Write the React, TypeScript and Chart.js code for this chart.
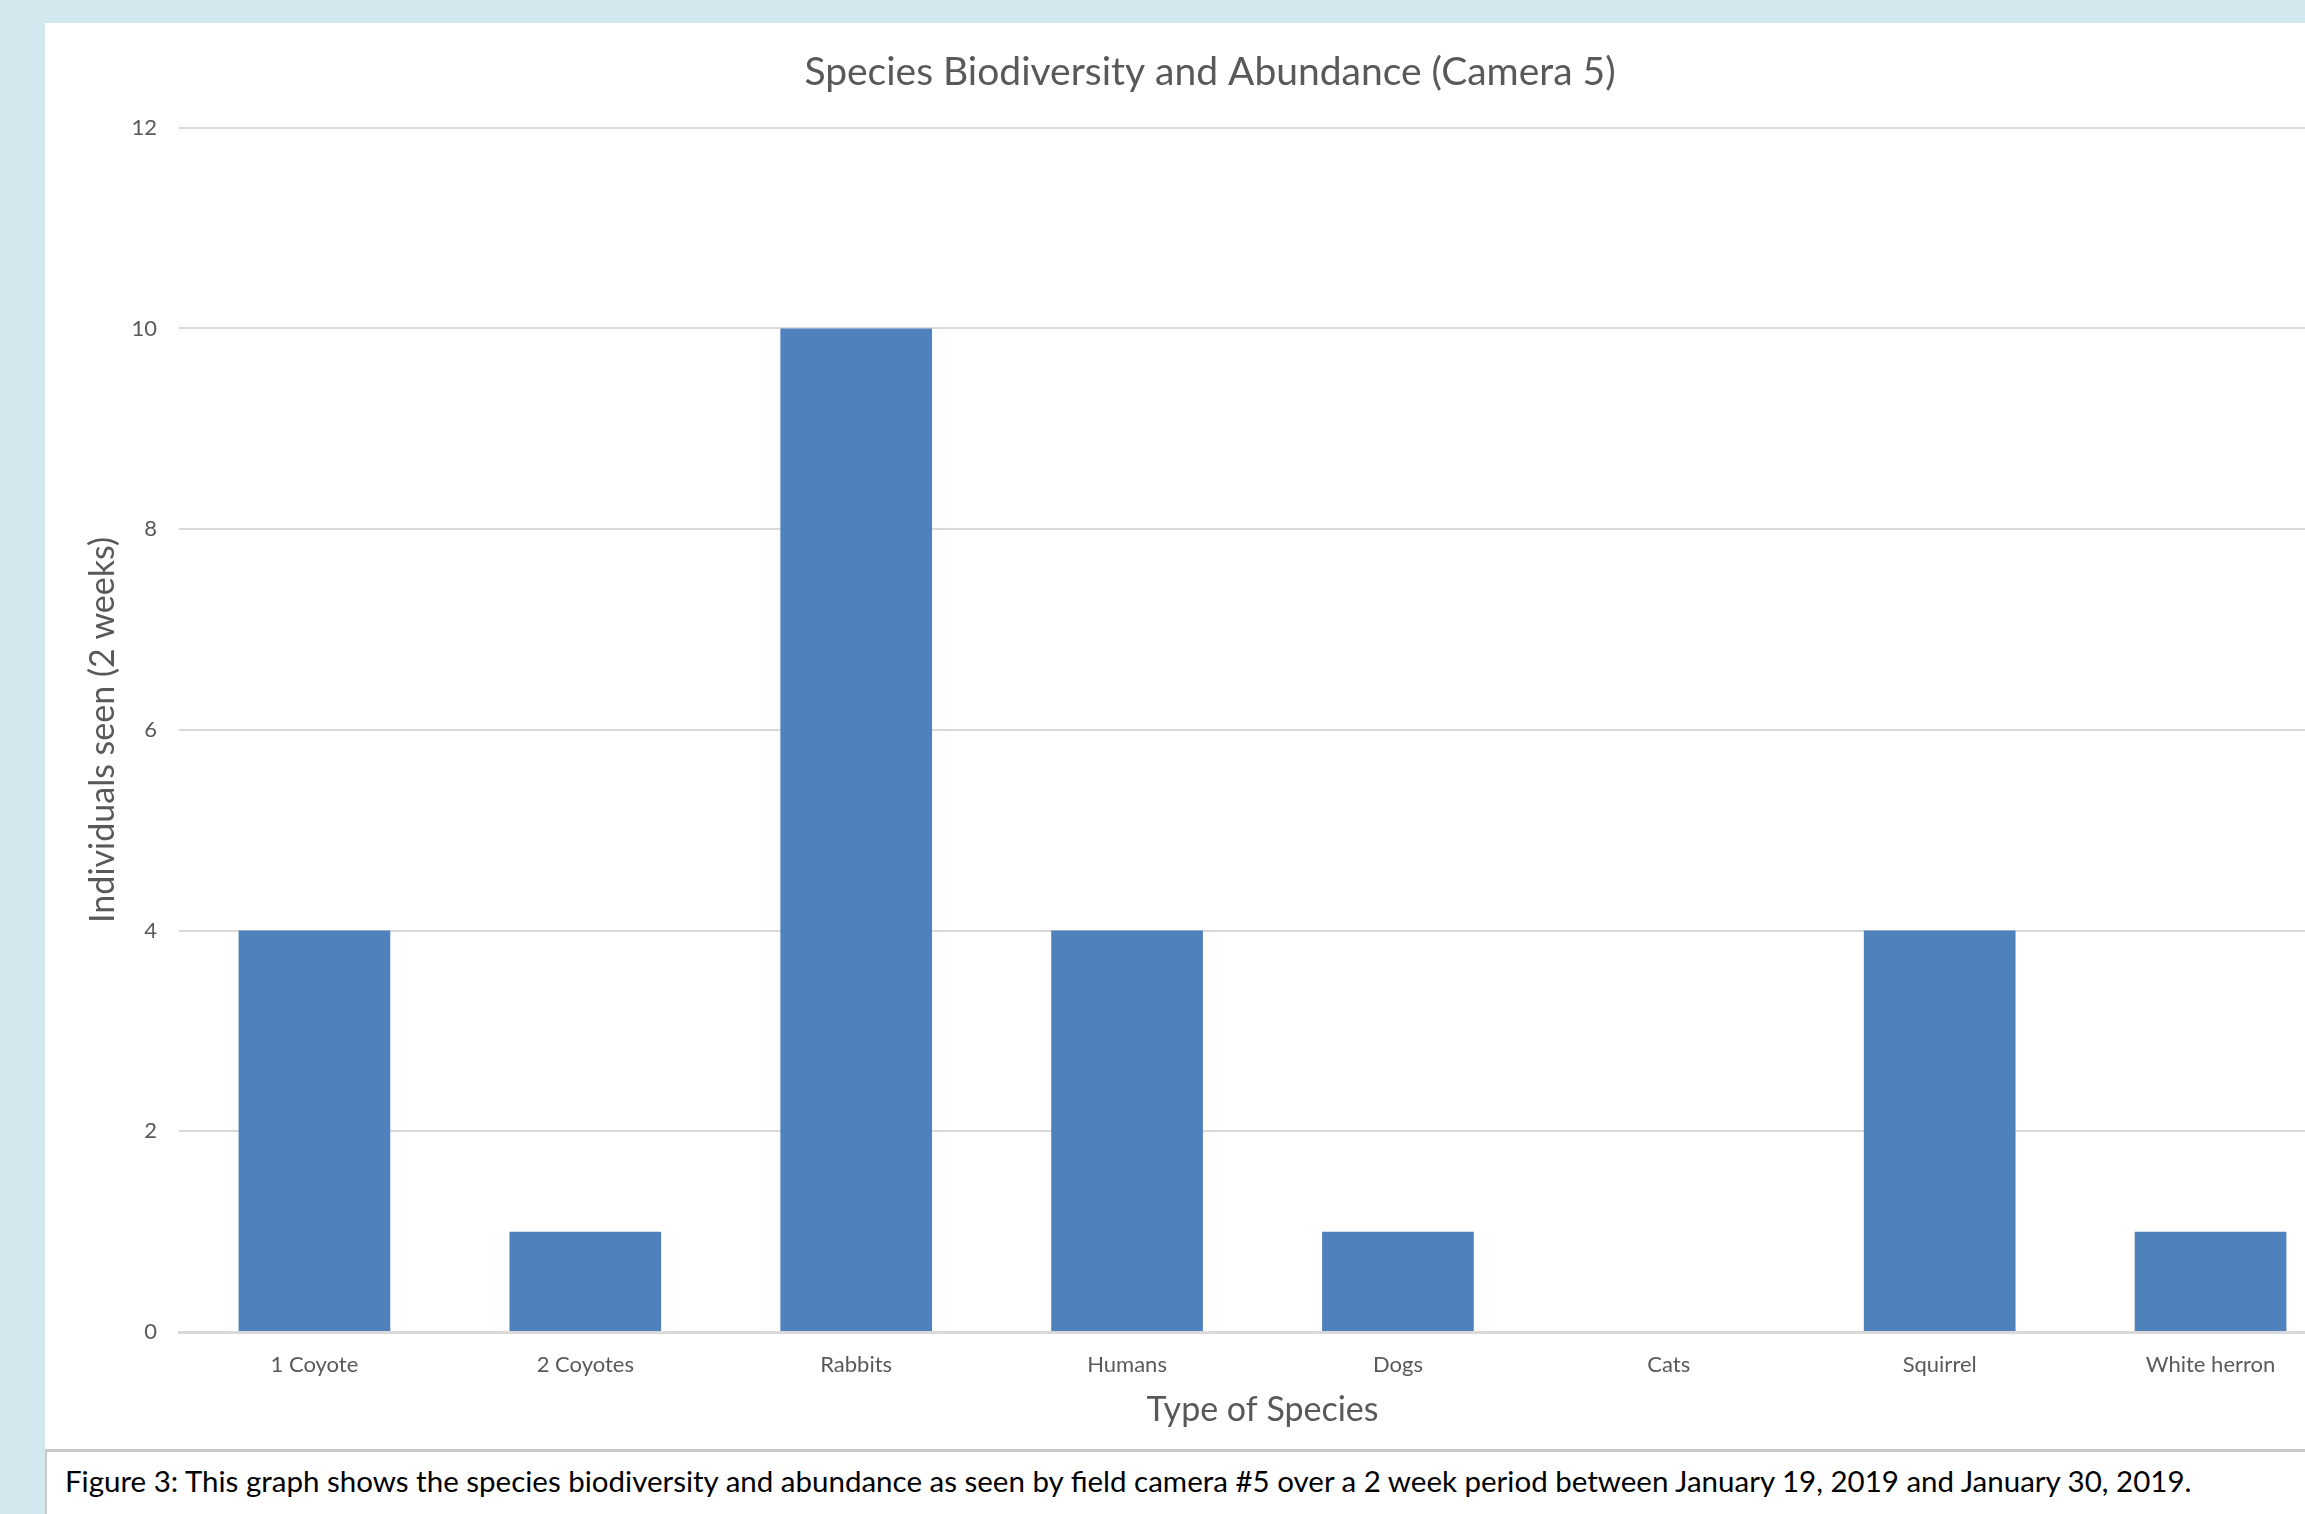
import React, { useEffect, useRef } from "react";
import { Chart, registerables } from "chart.js";

Chart.register(...registerables);

const categories = ["1 Coyote", "2 Coyotes", "Rabbits", "Humans", "Dogs", "Cats", "Squirrel", "White herron"];
const individualsSeen = [4, 1, 10, 4, 1, 0, 4, 1];
const yTickMin = 0;
const yTickMax = 12;
const yTickStep = 2;

const chartTitle = "Species Biodiversity and Abundance (Camera 5)";
const xTitle = "Type of Species";
const yTitle = "Individuals seen (2 weeks)";
const caption =
  "Figure 3: This graph shows the species biodiversity and abundance as seen by field camera #5 over a 2 week period between January 19, 2019 and January 30, 2019.";

const FONT = "Lato, 'Liberation Sans', sans-serif";
const TEXT = "#595959";
const GRID = "#d9d9d9";
const BAR = "#4f81bd";

const CANVAS_W = 2328;
const CANVAS_H = 1428;

export default function App() {
  const ref = useRef<HTMLCanvasElement | null>(null);

  useEffect(() => {
    if (!ref.current) return;
    const chart = new Chart(ref.current, {
      type: "bar",
      data: {
        labels: categories,
        datasets: [
          {
            data: individualsSeen,
            backgroundColor: BAR,
            borderWidth: 0,
            categoryPercentage: 1,
            barPercentage: 0.56,
          },
        ],
      },
      options: {
        responsive: false,
        animation: false,
        devicePixelRatio: 1,
        layout: { padding: { left: 28, right: 28, top: 0, bottom: 0 } },
        plugins: {
          legend: { display: false },
          tooltip: { enabled: false },
          title: {
            display: true,
            text: chartTitle,
            color: TEXT,
            font: { family: FONT, size: 39, weight: "normal", lineHeight: 1.2 },
            padding: { top: 26, bottom: 32 },
          },
        },
        scales: {
          x: {
            grid: { display: false, drawTicks: false },
            border: { display: true, color: GRID, width: 3 },
            ticks: { color: TEXT, font: { family: FONT, size: 22 }, padding: 20, maxRotation: 0, autoSkip: false },
            title: {
              display: true,
              text: xTitle,
              color: TEXT,
              font: { family: FONT, size: 34, lineHeight: 1.2 },
              padding: { top: 0, bottom: 21 },
            },
            afterFit: (scale: any) => {
              scale.height = 119;
            },
          },
          y: {
            min: yTickMin,
            max: yTickMax,
            grid: { color: GRID, lineWidth: 2, drawTicks: false },
            border: { display: false },
            ticks: { stepSize: yTickStep, color: TEXT, font: { family: FONT, size: 22 }, padding: 22 },
            title: {
              display: true,
              text: yTitle,
              color: TEXT,
              font: { family: FONT, size: 34, lineHeight: 1.2 },
              padding: { top: 9, bottom: 0 },
            },
            afterFit: (scale: any) => {
              scale.width = 105;
            },
          },
        },
      },
    });
    return () => chart.destroy();
  }, []);

  return (
    <div style={{ position: "fixed", left: 0, top: 0, width: 2305, height: 1514, background: "#d3e8ee", overflow: "hidden" }}>
      <div style={{ position: "absolute", left: 45, top: 23, width: 2400, height: 1600, background: "#ffffff" }} />
      <canvas
        ref={ref}
        width={CANVAS_W}
        height={CANVAS_H}
        style={{ position: "absolute", left: 46, top: 23, width: CANVAS_W, height: CANVAS_H }}
      />
      <div
        style={{
          position: "absolute",
          left: 45,
          top: 1449,
          width: 2400,
          height: 100,
          background: "#ffffff",
          borderTop: "3px solid #c8c8c8",
          borderLeft: "2px solid #c8c8c8",
          boxSizing: "border-box",
        }}
      >
        <div
          style={{
            position: "absolute",
            left: 18,
            top: 14,
            fontFamily: FONT,
            fontSize: 29.5,
            lineHeight: "30px",
            color: "#000000",
            whiteSpace: "nowrap",
          }}
        >
          {caption}
        </div>
      </div>
    </div>
  );
}
